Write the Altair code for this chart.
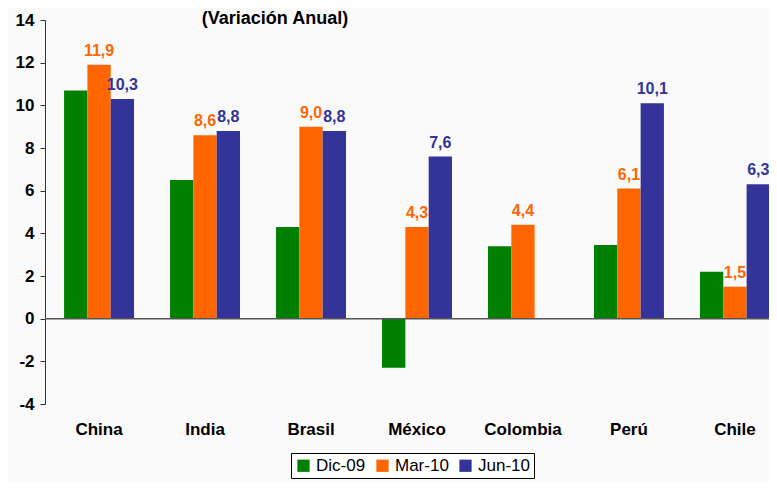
import altair as alt
import pandas as pd

countries = ["China", "India", "Brasil", "México", "Colombia", "Perú", "Chile"]
series = ["Dic-09", "Mar-10", "Jun-10"]
dic09 = [10.7, 6.5, 4.3, -2.3, 3.4, 3.45, 2.2]
mar10 = [11.9, 8.6, 9.0, 4.3, 4.4, 6.1, 1.5]
jun10 = [10.3, 8.8, 8.8, 7.6, None, 10.1, 6.3]
labelled = ["Mar-10", "Jun-10"]
colors = ["#008000", "#FF6600", "#333399"]
y_ticks = [-4, -2, 0, 2, 4, 6, 8, 10, 12, 14]

rows = []
for s, vals in zip(series, [dic09, mar10, jun10]):
    for c, v in zip(countries, vals):
        if v is None:
            continue
        rows.append({"country": c, "serie": s, "value": v,
                     "label": f"{v:.1f}".replace(".", ",") if s in labelled else ""})
df = pd.DataFrame(rows)

FONT = "Liberation Sans"
W, H = 724, 384

x = alt.X("country:N", sort=countries, title=None,
          scale=alt.Scale(range=[0, 744], paddingInner=0.34, paddingOuter=0.18),
          axis=alt.Axis(orient="bottom", domain=False, ticks=False, labelAngle=0,
                        labelFont=FONT, labelFontSize=17, labelFontWeight="bold",
                        labelColor="black", labelPadding=17))
xo = alt.XOffset("serie:N", sort=series, scale=alt.Scale(domain=series, paddingInner=0, paddingOuter=0))
y = alt.Y("value:Q", title=None,
          scale=alt.Scale(domain=[-4, 14], nice=False, zero=False),
          axis=alt.Axis(values=y_ticks, grid=False, domainColor="#333333", tickColor="#333333",
                        tickSize=5, labelFont=FONT, labelFontSize=17, labelFontWeight="bold",
                        labelColor="black", labelPadding=6,
                        labelExpr="datum.value < 0 ? '-' + abs(datum.value) : '' + datum.value"))
color = alt.Color("serie:N", sort=series,
                  scale=alt.Scale(domain=series, range=colors),
                  legend=alt.Legend(title=None, orient="none", legendX=246, legendY=433,
                                    direction="horizontal", symbolType="square",
                                    symbolSize=150, symbolStrokeWidth=0,
                                    labelFont=FONT, labelFontSize=17, labelColor="black",
                                    strokeColor="black", padding=4, columnPadding=8,
                                    labelOffset=4, fillColor="white"))

bars = alt.Chart(df).mark_bar().encode(x=x, xOffset=xo, y=y, color=color)

labels = alt.Chart(df).mark_text(baseline="bottom", dy=-6, font=FONT, fontSize=16,
                                 fontWeight="bold").encode(
    x=x, xOffset=xo, y=y, text="label:N",
    color=alt.Color("serie:N", sort=series, scale=alt.Scale(domain=series, range=colors), legend=None))

zero = alt.Chart(pd.DataFrame({"v": [0]})).mark_rule(color="#555555", strokeWidth=1.5).encode(
    y=alt.Y("v:Q", scale=alt.Scale(domain=[-4, 14], nice=False, zero=False)))

title = alt.Chart(pd.DataFrame({"t": ["(Variación Anual)"]})).mark_text(
    font=FONT, fontSize=18, fontWeight="bold", baseline="alphabetic", align="center").encode(
    x=alt.value(230), y=alt.value(4), text="t:N")

chart = alt.layer(bars, zero, labels, title).properties(
    width=W, height=H,
    autosize=alt.AutoSizeParams(type="none"),
    padding={"left": 37, "top": 12, "right": 0, "bottom": 78},
    background="#fafafa",
).configure_view(stroke=None).resolve_scale(color="independent")

chart.save("out.html", embed_options={"renderer": "svg", "actions": False})
